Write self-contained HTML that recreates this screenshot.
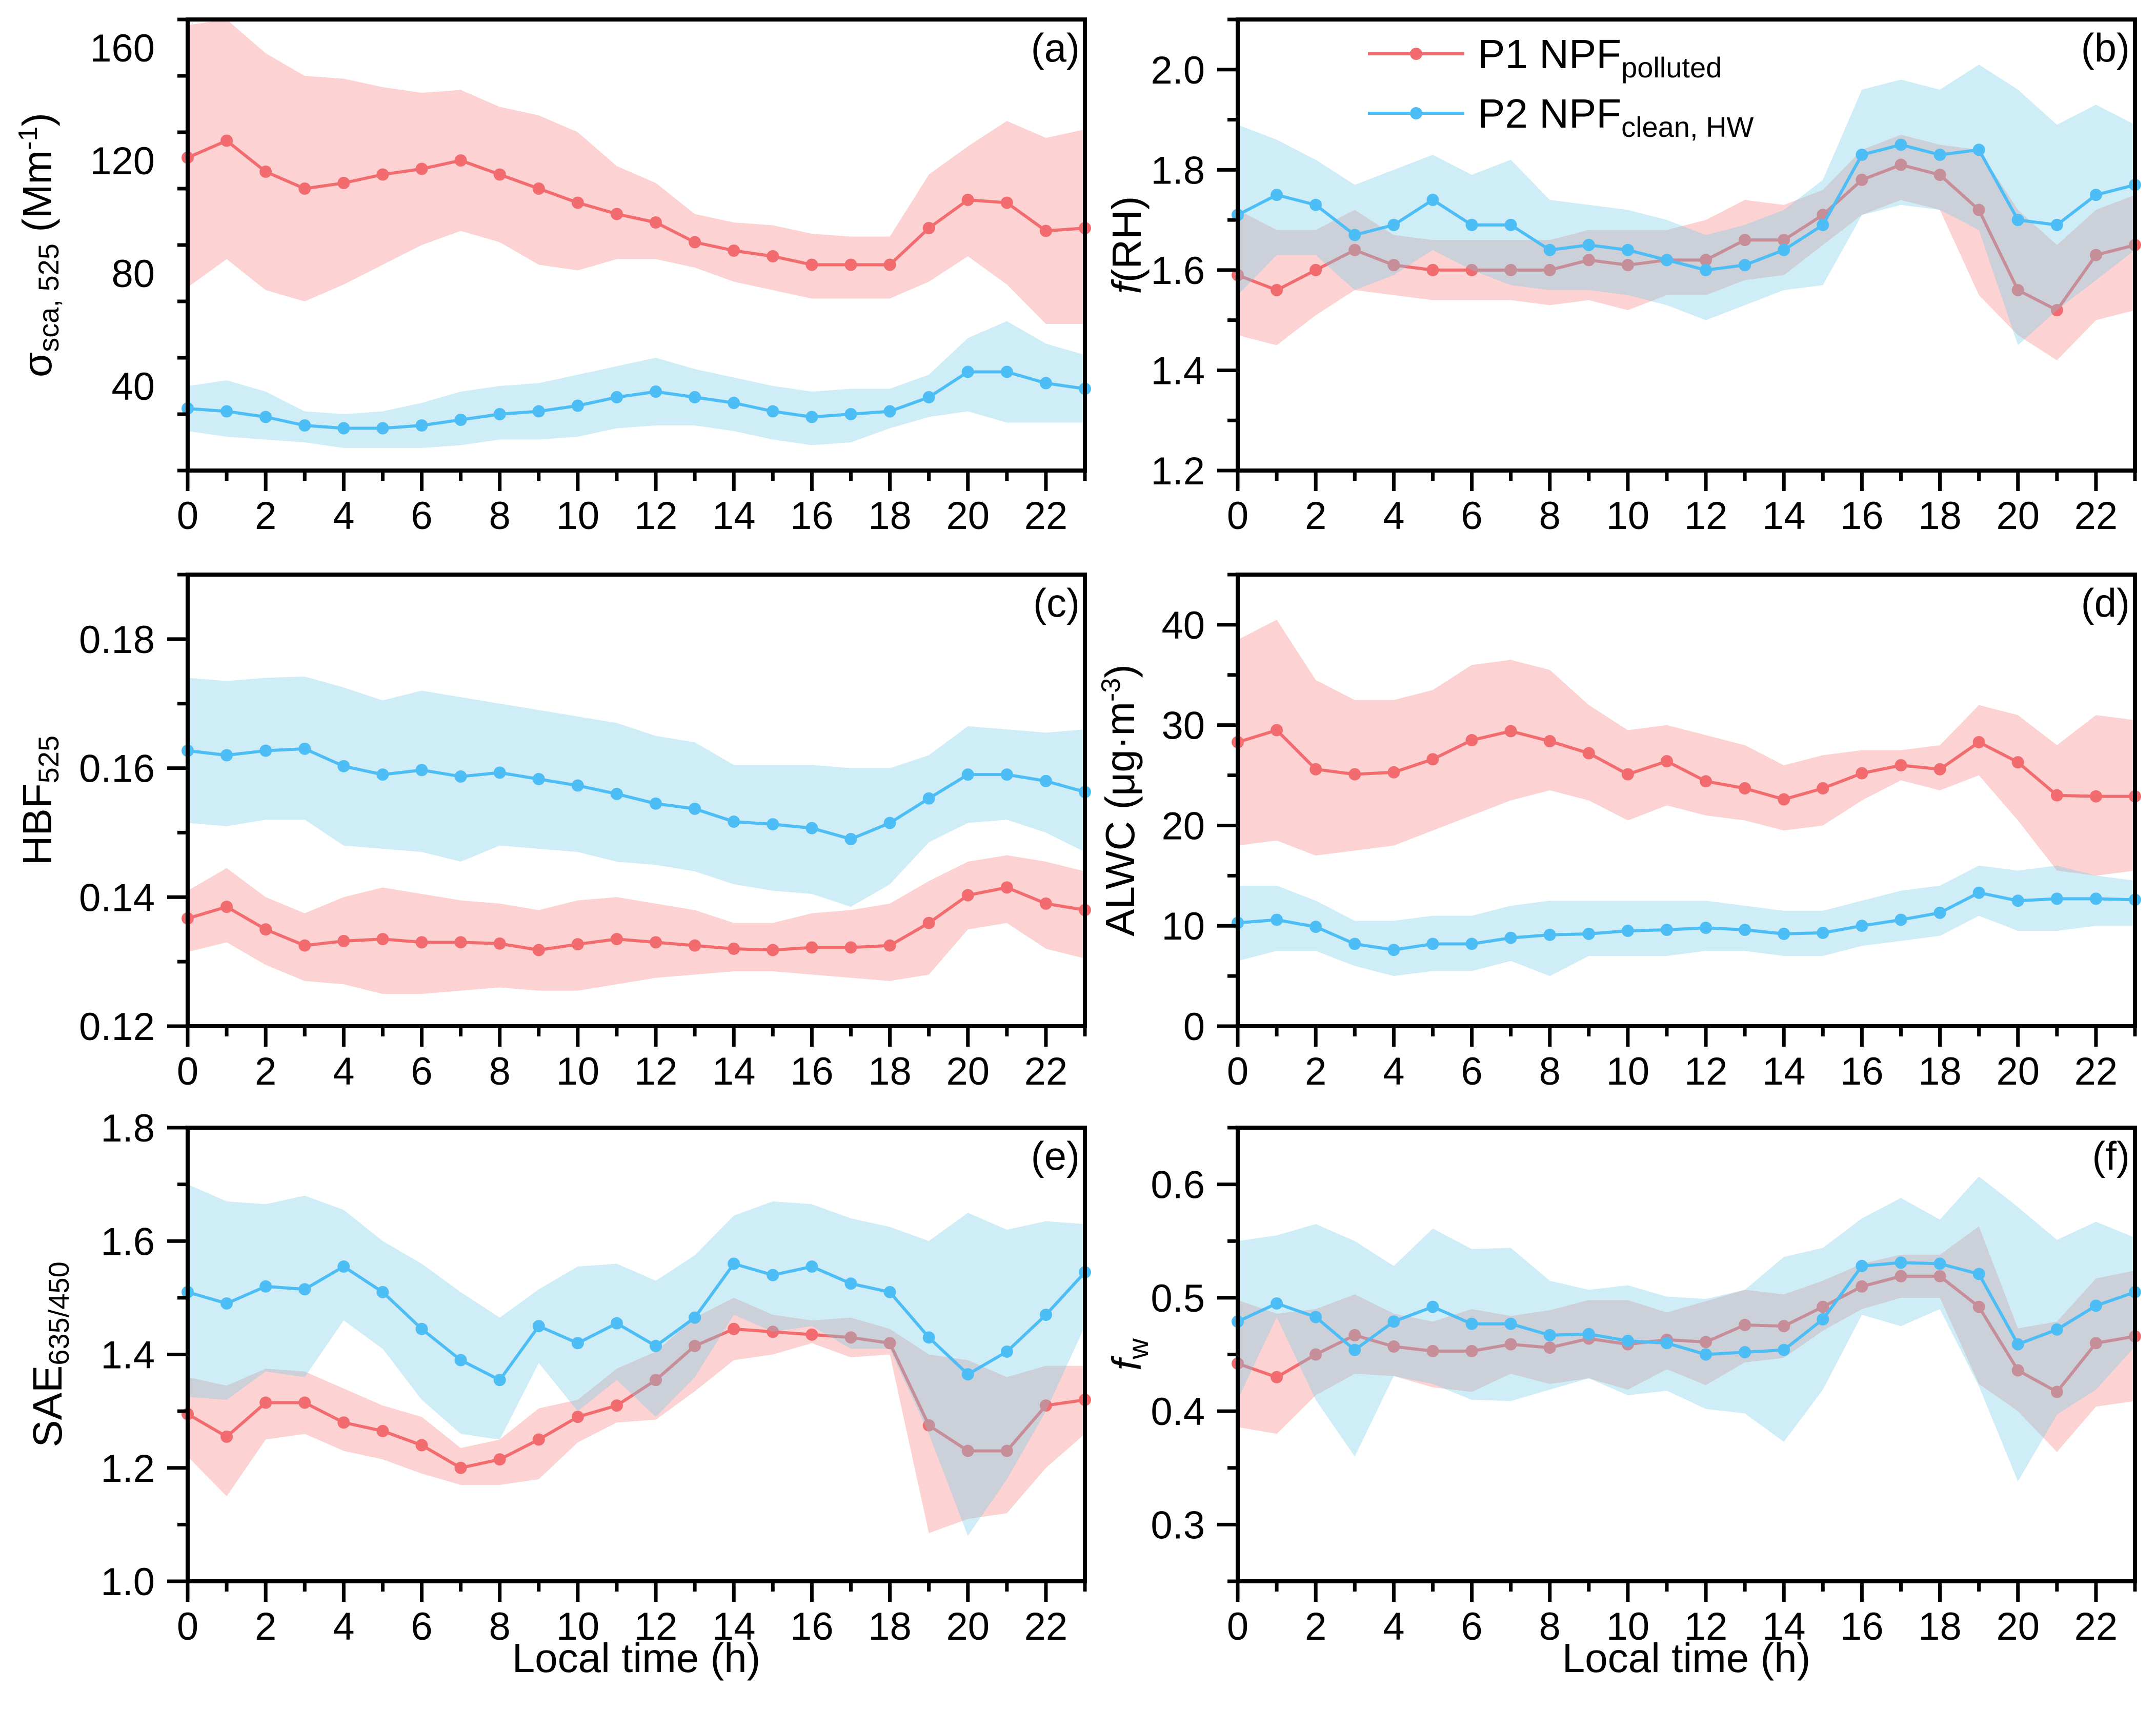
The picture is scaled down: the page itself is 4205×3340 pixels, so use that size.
<!DOCTYPE html>
<html><head><meta charset="utf-8"><style>
html,body{margin:0;padding:0;background:#fff;}
svg{display:block;font-family:"Liberation Sans",sans-serif;}
</style></head><body>
<svg id="fig" width="4205" height="3340" viewBox="0 0 4205 3340" xmlns="http://www.w3.org/2000/svg">
<rect width="4205" height="3340" fill="#fff"/>
</svg>
<script>
const hours = [0,1,2,3,4,5,6,7,8,9,10,11,12,13,14,15,16,17,18,19,20,21,22,23];
const xTicks = [0,2,4,6,8,10,12,14,16,18,20,22];
// (a)
const aRed = [121,127,116,110,112,115,117,120,115,110,105,101,98,91,88,86,83,83,83,96,106,105,95,96];
const aRedHi = [168,170,158,150,149,146,144,145,139,136,130,118,112,101,98,97,94,93,93,115,125,134,128,131];
const aRedLo = [75,85,74,70,76,83,90,95,91,83,81,85,85,82,77,74,71,71,71,77,86,76,62,62];
const aBlue = [32,31,29,26,25,25,26,28,30,31,33,36,38,36,34,31,29,30,31,36,45,45,41,39];
const aBlueHi = [40,42,38,31,30,31,34,38,40,41,44,47,50,46,43,40,38,39,39,44,57,63,55,51];
const aBlueLo = [24,22,21,20,18,18,18,19,21,21,22,25,26,26,24,21,19,20,25,29,31,27,27,27];
const aTicks = [40,80,120,160];
// (b)
const bRed = [1.59,1.56,1.60,1.64,1.61,1.60,1.60,1.60,1.60,1.62,1.61,1.62,1.62,1.66,1.66,1.71,1.78,1.81,1.79,1.72,1.56,1.52,1.63,1.65];
const bRedHi = [1.72,1.68,1.68,1.72,1.67,1.66,1.66,1.66,1.66,1.68,1.68,1.68,1.70,1.74,1.73,1.76,1.84,1.87,1.85,1.84,1.72,1.65,1.72,1.75];
const bRedLo = [1.47,1.45,1.51,1.56,1.55,1.54,1.54,1.54,1.53,1.54,1.52,1.55,1.55,1.58,1.59,1.65,1.71,1.74,1.72,1.55,1.47,1.42,1.50,1.52];
const bBlue = [1.71,1.75,1.73,1.67,1.69,1.74,1.69,1.69,1.64,1.65,1.64,1.62,1.60,1.61,1.64,1.69,1.83,1.85,1.83,1.84,1.70,1.69,1.75,1.77];
const bBlueHi = [1.89,1.86,1.82,1.77,1.80,1.83,1.79,1.82,1.74,1.73,1.72,1.70,1.67,1.69,1.72,1.78,1.96,1.98,1.96,2.01,1.96,1.89,1.93,1.89];
const bBlueLo = [1.55,1.63,1.63,1.56,1.59,1.64,1.60,1.57,1.56,1.56,1.55,1.53,1.50,1.53,1.56,1.57,1.71,1.73,1.72,1.68,1.45,1.52,1.58,1.64];
const bTicks = ["1.2","1.4","1.6","1.8","2.0"];
// (c)
const cBlue = [.1627,.1620,.1627,.1630,.1603,.1590,.1597,.1587,.1593,.1583,.1573,.1560,.1545,.1537,.1517,.1513,.1507,.1490,.1515,.1553,.1590,.1590,.1580,.1563];
const cBlueHi = [.1740,.1735,.1740,.1742,.1725,.1705,.1720,.1710,.1700,.1690,.1680,.1670,.1650,.1640,.1605,.1605,.1605,.1600,.1600,.1620,.1665,.1660,.1655,.1660];
const cBlueLo = [.1515,.1510,.1520,.1520,.1480,.1475,.1470,.1455,.1480,.1475,.1470,.1455,.1450,.1440,.1420,.1410,.1405,.1385,.1420,.1485,.1515,.1520,.1500,.1470];
const cRed = [.1367,.1385,.1350,.1325,.1332,.1335,.1330,.1330,.1328,.1318,.1327,.1335,.1330,.1325,.1320,.1318,.1322,.1322,.1325,.1360,.1403,.1415,.1390,.1380];
const cRedHi = [.1410,.1445,.1400,.1375,.1400,.1415,.1405,.1395,.1390,.1380,.1395,.1400,.1390,.1380,.1360,.1360,.1375,.1380,.1390,.1425,.1455,.1465,.1455,.1440];
const cRedLo = [.1315,.1330,.1295,.1270,.1265,.1250,.1250,.1255,.1260,.1255,.1255,.1265,.1275,.1280,.1285,.1285,.1280,.1275,.1270,.1280,.1350,.1360,.1320,.1305];
const cTicks = ["0.12","0.14","0.16","0.18"];
// (d)
const dRed = [28.3,29.5,25.6,25.1,25.3,26.6,28.5,29.4,28.4,27.2,25.1,26.4,24.4,23.7,22.6,23.7,25.2,26.0,25.6,28.3,26.3,23.0,22.9,22.9];
const dRedHi = [38.5,40.5,34.5,32.5,32.5,33.5,36,36.5,35.5,32,29.5,30,29,28,26,27,27.5,27.5,28,32,31,28,31,30.5];
const dRedLo = [18,18.5,17,17.5,18,19.5,21,22.5,23.5,22.5,20.5,22,21,20.5,19.5,20,22.5,24.5,23.5,25,20.5,15.5,15,15.5];
const dBlue = [10.3,10.6,9.9,8.2,7.6,8.2,8.2,8.8,9.1,9.2,9.5,9.6,9.8,9.6,9.2,9.3,10.0,10.6,11.3,13.3,12.5,12.7,12.7,12.6];
const dBlueHi = [14,14,12.5,10.5,10.5,11,11,12,12.5,12.5,12.5,12.5,12.5,12,11.5,11.5,12.5,13.5,14,16,15.5,16,15,14.5];
const dBlueLo = [6.5,7.5,7.5,6,5,5.5,5.5,6.5,5,7,7,7,7.5,7.5,7,7,8,8.5,9,11,9.5,9.5,10,10];
const dTicks = ["0","10","20","30","40"];
// (e)
const eBlue = [1.51,1.49,1.52,1.515,1.555,1.51,1.445,1.39,1.355,1.45,1.42,1.455,1.415,1.465,1.56,1.54,1.555,1.525,1.51,1.43,1.365,1.405,1.47,1.545];
const eBlueHi = [1.70,1.67,1.665,1.68,1.655,1.60,1.56,1.51,1.465,1.515,1.555,1.56,1.53,1.575,1.645,1.67,1.665,1.64,1.625,1.60,1.65,1.62,1.635,1.63];
const eBlueLo = [1.325,1.32,1.37,1.36,1.46,1.41,1.32,1.26,1.25,1.385,1.30,1.355,1.29,1.36,1.47,1.44,1.45,1.41,1.41,1.26,1.08,1.18,1.30,1.45];
const eRed = [1.295,1.255,1.315,1.315,1.28,1.265,1.24,1.20,1.215,1.25,1.29,1.31,1.355,1.415,1.445,1.44,1.435,1.43,1.42,1.275,1.23,1.23,1.31,1.32];
const eRedHi = [1.36,1.345,1.375,1.37,1.34,1.31,1.29,1.235,1.25,1.305,1.32,1.375,1.405,1.465,1.50,1.47,1.46,1.465,1.445,1.40,1.39,1.36,1.38,1.38];
const eRedLo = [1.22,1.15,1.25,1.26,1.23,1.215,1.19,1.17,1.17,1.18,1.245,1.28,1.285,1.335,1.39,1.40,1.42,1.395,1.40,1.085,1.11,1.12,1.20,1.26];
const eTicks = ["1.0","1.2","1.4","1.6","1.8"];
// (f)
const fBlue = [.479,.495,.483,.454,.479,.492,.477,.477,.467,.468,.462,.460,.450,.452,.454,.481,.528,.531,.530,.521,.459,.472,.493,.505];
const fBlueHi = [.550,.555,.565,.550,.528,.561,.543,.544,.515,.507,.511,.501,.499,.507,.536,.544,.570,.588,.569,.607,.580,.551,.567,.553];
const fBlueLo = [.410,.483,.410,.360,.431,.424,.410,.409,.419,.429,.414,.418,.402,.398,.373,.419,.485,.475,.490,.422,.338,.397,.419,.457];
const fRed = [.442,.430,.450,.467,.457,.453,.453,.459,.456,.464,.459,.463,.461,.476,.475,.492,.510,.519,.519,.492,.436,.417,.460,.466];
const fRedHi = [.498,.486,.490,.503,.486,.479,.490,.484,.489,.498,.498,.487,.497,.507,.503,.515,.530,.538,.538,.563,.473,.479,.517,.524];
const fRedLo = [.386,.380,.414,.433,.431,.421,.417,.433,.424,.429,.419,.437,.423,.443,.447,.471,.490,.500,.500,.424,.400,.364,.404,.409];
const fTicks = ["0.3","0.4","0.5","0.6"];

const NS = "http://www.w3.org/2000/svg";
const svg = document.getElementById('fig');
function mk(tag, attrs, parent){
  const e = document.createElementNS(NS, tag);
  for (const k in attrs) e.setAttribute(k, attrs[k]);
  (parent||svg).appendChild(e);
  return e;
}
const RED = "#f26b6e", BLUE = "#4dbdf5";
const REDF = "rgba(246,130,130,0.36)", BLUEF = "rgba(120,205,230,0.36)";
const W = 1750;

function panel(o){
  const g = mk('g', {});
  
  
  const L=o.L, R=o.L+W, T=o.T, B=o.B;
  const sx = h => L + (h-0)*(R-L)/23;
  const sy = v => B - (v-o.min)*(B-T)/(o.max-o.min);
  function band(hi, lo, fill, name){
    let d = 'M' + hours.map((h,i)=>sx(h)+','+sy(hi[i])).join('L');
    d += 'L' + hours.slice().reverse().map(h=>sx(h)+','+sy(lo[h])).join('L') + 'Z';
    const p = mk('path', {d:d, fill:fill}, g);
    
    
  }
  function line(vals, col, name){
    const p = mk('polyline', {points: hours.map((h,i)=>sx(h)+','+sy(vals[i])).join(' '), fill:'none', stroke:col, 'stroke-width':6, 'stroke-linejoin':'round'}, g);
    
    
    hours.forEach((h,i)=>{
      const c = mk('circle', {cx:sx(h), cy:sy(vals[i]), r:12, fill:col}, g);
      
      
    });
  }
  band(o.rHi, o.rLo, REDF, 'p1-band');
  line(o.r, RED, 'p1');
  band(o.bHi, o.bLo, BLUEF, 'p2-band');
  line(o.b, BLUE, 'p2');
  const fr = mk('rect', {x:L, y:T, width:R-L, height:B-T, fill:'none', stroke:'#000', 'stroke-width':8}, g);
  
  
  hours.forEach(h=>{
    const major = h%2===0;
    mk('line', {x1:sx(h), x2:sx(h), y1:B, y2:B+(major?40:20), stroke:'#000', 'stroke-width':7}, g);
  });
  xTicks.forEach(h=>{
    const t = mk('text', {x:sx(h), y:B+114, 'font-size':76, 'text-anchor':'middle'}, g);
    t.textContent = h;
    
    
  });
  const step = o.step;
  for (let v=o.min; v<=o.max+1e-9; v+=step/2){
    const isMajor = o.ticks.some(t=>Math.abs(parseFloat(t)-v)<1e-9);
    mk('line', {x1:L, x2:L-(isMajor?40:20), y1:sy(v), y2:sy(v), stroke:'#000', 'stroke-width':7}, g);
  }
  o.ticks.forEach(tv=>{
    const t = mk('text', {x:L-64, y:sy(parseFloat(tv))+27, 'font-size':76, 'text-anchor':'end'}, g);
    t.textContent = tv;
    
    
  });
  const pl = mk('text', {x:R-10, y:T+82, 'font-size':78, 'text-anchor':'end'}, g);
  pl.textContent = '(' + o.id + ')';
  
  
  const yt = mk('text', {x:0, y:0, 'font-size':80, 'text-anchor':'middle', transform:'translate('+o.tx+','+((T+B)/2)+') rotate(-90)'}, g);
  yt.innerHTML = o.title;
  
  
  if (o.xlabel){
    const xl = mk('text', {x:(L+R)/2, y:3262, 'font-size':80, 'text-anchor':'middle'}, g);
    xl.textContent = 'Local time (h)';
    
    
  }
}
const LX = 366, RX = 2414;
const r1 = [38,918], r2 = [1121,2002], r3 = [2200,3085];
panel({id:'a', L:LX, T:r1[0], B:r1[1], min:10, max:170, step:40, ticks:aTicks.map(String), r:aRed,rHi:aRedHi,rLo:aRedLo,b:aBlue,bHi:aBlueHi,bLo:aBlueLo, tx:100,
  title:'σ<tspan font-size="56" dy="14">sca, 525</tspan><tspan dy="-14"> (Mm</tspan><tspan font-size="52" dy="-28">-1</tspan><tspan dy="28">)</tspan>'});
panel({id:'b', L:RX, T:r1[0], B:r1[1], min:1.2, max:2.1, step:0.2, ticks:bTicks, r:bRed,rHi:bRedHi,rLo:bRedLo,b:bBlue,bHi:bBlueHi,bLo:bBlueLo, tx:2225,
  title:'<tspan font-style="italic">f</tspan>(RH)'});
panel({id:'c', L:LX, T:r2[0], B:r2[1], min:0.12, max:0.19, step:0.02, ticks:cTicks, r:cRed,rHi:cRedHi,rLo:cRedLo,b:cBlue,bHi:cBlueHi,bLo:cBlueLo, tx:100,
  title:'HBF<tspan font-size="56" dy="14">525</tspan>'});
panel({id:'d', L:RX, T:r2[0], B:r2[1], min:0, max:45, step:10, ticks:dTicks, r:dRed,rHi:dRedHi,rLo:dRedLo,b:dBlue,bHi:dBlueHi,bLo:dBlueLo, tx:2212,
  title:'ALWC (μg·m<tspan font-size="52" dy="-28">-3</tspan><tspan dy="28">)</tspan>'});
panel({id:'e', L:LX, T:r3[0], B:r3[1], min:1.0, max:1.8, step:0.2, ticks:eTicks, r:eRed,rHi:eRedHi,rLo:eRedLo,b:eBlue,bHi:eBlueHi,bLo:eBlueLo, tx:120, xlabel:true,
  title:'SAE<tspan font-size="56" dy="14">635/450</tspan>'});
panel({id:'f', L:RX, T:r3[0], B:r3[1], min:0.25, max:0.65, step:0.1, ticks:fTicks, r:fRed,rHi:fRedHi,rLo:fRedLo,b:fBlue,bHi:fBlueHi,bLo:fBlueLo, tx:2225, xlabel:true,
  title:'<tspan font-style="italic">f</tspan><tspan font-size="56" dy="14">w</tspan>'});

const lg = mk('g', {});


[[RED,105,'P1 NPF','polluted'],[BLUE,221,'P2 NPF','clean, HW']].forEach(([c,y,t,s])=>{
  const e = mk('g', {}, lg);
  
  
  mk('line', {x1:2668, x2:2856, y1:y, y2:y, stroke:c, 'stroke-width':6}, e);
  mk('circle', {cx:2762, cy:y, r:12, fill:c}, e);
  const tx = mk('text', {x:2882, y:y+28, 'font-size':80}, e);
  tx.innerHTML = t + '<tspan font-size="56" dy="18">' + s + '</tspan>';
});
</script>
</body></html>
